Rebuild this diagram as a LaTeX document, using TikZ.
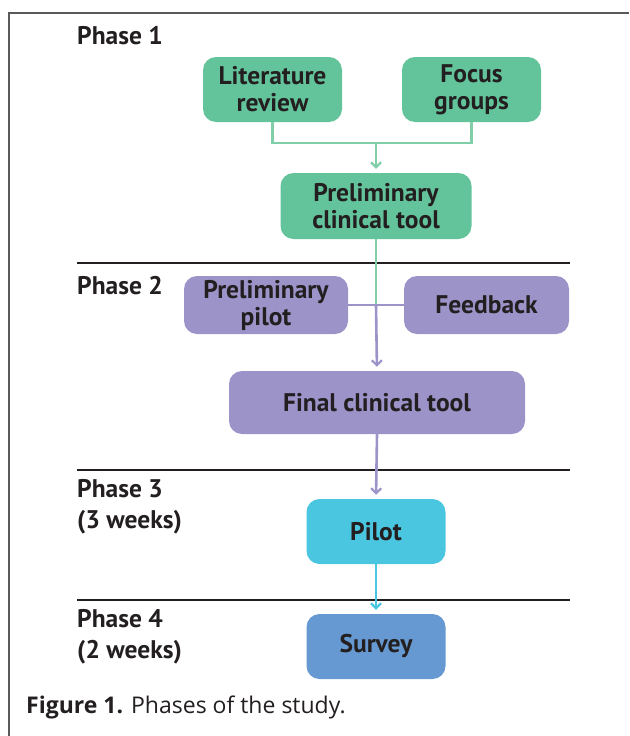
\documentclass[tikz,border=0pt]{standalone}
\usepackage{fontspec}
\setmainfont{PT Sans}
\newfontfamily\capfont{Open Sans}
\usetikzlibrary{arrows.meta}
\definecolor{txt}{HTML}{231F20}
\definecolor{gbox}{HTML}{63C49B}
\definecolor{gline}{HTML}{80CFA8}
\definecolor{pbox}{HTML}{9C94C9}
\definecolor{cbox}{HTML}{4BC6E0}
\definecolor{bbox}{HTML}{6699D1}
\definecolor{frame}{HTML}{5A5A5A}
\tikzset{
  box/.style={rounded corners=13pt, inner sep=0pt, align=center, text=txt,
    font=\fontsize{25.5}{27}\selectfont\bfseries},
  gb/.style={box, fill=gbox},
  pb/.style={box, fill=pbox},
  cb/.style={box, fill=cbox},
  bb/.style={box, fill=bbox},
  phase/.style={anchor=north west, inner sep=0pt, align=left, text=txt,
    font=\fontsize{25.5}{31}\selectfont\bfseries},
  conn/.style={line width=2.6pt},
  arr/.style={conn, -{Straight Barb[length=5pt,width=10pt,line width=2.2pt]}, shorten >=4pt},
  rule/.style={line width=2.6pt, txt},
}
\begin{document}
\begin{tikzpicture}[x=1pt,y=-1pt]
\useasboundingbox (0,0) rectangle (629,736);
% frame
\draw[frame, line width=1.5pt] (9,736) -- (9,13) -- (629,13);
% phase rules
\draw[rule] (77,263) -- (570,263);
\draw[rule] (77,470) -- (570,470);
\draw[rule] (77,600) -- (570,600);
% phase labels
\node[phase] (ph1) at (77,26) {Phase 1};
\node[phase] (ph2) at (77,276) {Phase 2};
\node[phase] (ph3) at (77,479) {Phase 3\\(3 weeks)};
\node[phase] (ph4) at (77,609) {Phase 4\\(2 weeks)};
% nodes
\node[gb, minimum width=139pt, minimum height=65pt] (lit) at (272.5,89.5) {Literature\\review};
\node[gb, minimum width=139pt, minimum height=65pt] (focus) at (471.5,89.5) {Focus\\groups};
\node[gb, minimum width=191pt, minimum height=66pt] (prelim) at (376,206) {Preliminary\\clinical tool};
\node[pb, minimum width=164pt, minimum height=58pt] (ppilot) at (266,305) {Preliminary\\pilot};
\node[pb, minimum width=165pt, minimum height=58pt] (feedback) at (486.5,305) {Feedback};
\node[pb, minimum width=296pt, minimum height=63pt] (final) at (377,402.5) {Final clinical tool};
\node[cb, minimum width=139pt, minimum height=65pt] (pilot) at (376,531.5) {Pilot};
\node[bb, minimum width=139pt, minimum height=65pt] (survey) at (376,646.5) {Survey};
% connectors
\coordinate (j1) at (376,143);
\coordinate (j2) at (376,305);
\draw[conn, gline] (lit.south) |- (j1) -| (focus.south);
\draw[arr, gline] (j1) -- (prelim.north);
\draw[conn, gline] (prelim.south) -- (j2);
\draw[conn, pbox] (ppilot.east) -- (feedback.west);
\draw[arr, pbox] (j2) -- (final.north);
\draw[arr, pbox] (final.south) -- (pilot.north);
\draw[arr, cbox] (pilot.south) -- (survey.north);
% caption
\node[anchor=west, inner sep=0pt, text=txt, font=\capfont\fontsize{23}{26}\selectfont] (cap) at (26,707) {\textbf{Figure 1.} Phases of the study.};
\end{tikzpicture}
\end{document}
